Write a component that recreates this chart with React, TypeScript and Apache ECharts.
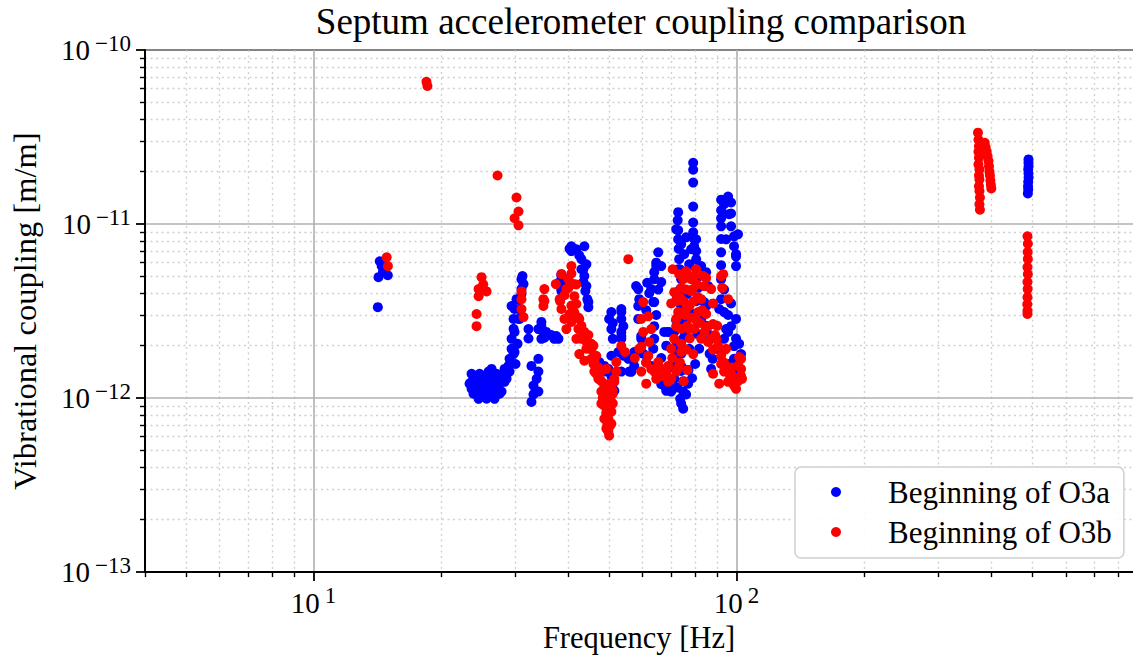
import React, { useEffect, useRef } from "react";
import * as echarts from "echarts";

const TITLE = "Septum accelerometer coupling comparison";
const X_NAME = "Frequency [Hz]";
const Y_NAME = "Vibrational coupling [m/m]";
const SERIES_NAMES = ["Beginning of O3a", "Beginning of O3b"];
const SERIES_COLORS = ["#0000ff", "#ff0000"];

const X_RANGE = [4, 864.8];
const Y_RANGE = [1e-13, 1e-10];
const X_MAJOR = [10, 100];
const X_MINOR = [4, 5, 6, 7, 8, 9, 20, 30, 40, 50, 60, 70, 80, 90, 200, 300, 400, 500, 600, 700, 800];
const Y_MAJOR = [1e-13, 1e-12, 1e-11, 1e-10];
const Y_MINOR = [
  2e-13, 3e-13, 4e-13, 5e-13, 6e-13, 7e-13, 8e-13, 9e-13,
  2e-12, 3e-12, 4e-12, 5e-12, 6e-12, 7e-12, 8e-12, 9e-12,
  2e-11, 3e-11, 4e-11, 5e-11, 6e-11, 7e-11, 8e-11, 9e-11,
];

// [frequency Hz, coupling m/m]
const O3A_POINTS: [number, number][] = [
  [14.35, 6.11e-12], [14.5, 5.73e-12], [14.25, 4.95e-12], [14.99, 5.08e-12], [14.6, 5.3e-12], [14.2, 3.33e-12],
  [23.65, 1.24e-12], [23.65, 1.13e-12], [24.04, 1.29e-12], [24.04, 1.09e-12], [24.3, 1.18e-12], [24.57, 0.99e-12],
  [24.57, 1.24e-12], [24.97, 1.18e-12], [24.97, 1.05e-12], [25.4, 1.09e-12], [25.4, 1.29e-12], [25.66, 1.24e-12],
  [25.94, 1.42e-12], [25.94, 1.13e-12], [26.37, 1.29e-12], [26.37, 1.05e-12], [26.8, 1.09e-12], [26.8, 0.99e-12],
  [26.8, 1.2e-12], [27.39, 1.18e-12], [27.39, 1.34e-12], [27.84, 1.29e-12], [27.84, 1.09e-12], [28.3, 1.47e-12],
  [28.3, 1.24e-12], [28.61, 1.29e-12], [28.9, 1.53e-12], [29.08, 1.68e-12], [29.08, 1.42e-12],
  [23.39, 1.21e-12], [23.9, 1.06e-12], [24.7, 1.38e-12], [25.24, 1.24e-12], [26.08, 1.13e-12], [27.09, 1.38e-12],
  [27.54, 1.06e-12], [25.66, 9.91e-13], [26.37, 1.47e-12], [28.61, 1.38e-12], [23.65, 1.38e-12],
  [29.4, 2.19e-12], [29.4, 1.92e-12], [29.72, 2.85e-12], [29.72, 2.5e-12], [29.88, 2.4e-12], [29.88, 3.25e-12],
  [29.88, 1.84e-12], [29.4, 3.38e-12], [30.53, 3.25e-12], [30.53, 2.85e-12], [30.7, 3.7e-12], [31.03, 4.23e-12],
  [31.03, 4.82e-12], [31.2, 5.02e-12], [32.23, 2.49e-12], [32.23, 2.2e-12], [32.76, 1.53e-12], [32.76, 9.5e-13],
  [30.2, 3.7e-12], [30.7, 2.85e-12], [30.37, 2.05e-12], [29.72, 1.79e-12], [30.04, 1.57e-12], [31.03, 3.96e-12],
  [31.37, 4.52e-12], [30.87, 3.25e-12],
  [33.12, 1.18e-12], [33.12, 1.05e-12], [33.7, 1.29e-12], [34.02, 1.68e-12], [34.02, 1.42e-12], [34.02, 1.09e-12],
  [34.02, 2.49e-12], [34.58, 2.59e-12], [34.58, 2.19e-12], [34.96, 2.4e-12], [35.15, 2.27e-12],
  [34.58, 2.74e-12], [35.5, 2.4e-12], [36.5, 2.3e-12], [37.1, 2.19e-12], [35.15, 2.22e-12],
  [37.94, 2.19e-12], [37.5, 2.27e-12], [38.56, 5.02e-12], [38.56, 4.23e-12], [38.56, 4.64e-12], [38.2, 4.64e-12],
  [38.56, 5.15e-12], [38.56, 4.12e-12],
  [40.71, 7.45e-12], [40.71, 6.99e-12], [40.3, 7.2e-12], [42.5, 6.6e-12], [42.99, 6.28e-12], [43.69, 7.45e-12],
  [43.46, 5.5e-12], [42.99, 5.5e-12], [43.69, 5.02e-12], [43.46, 4.64e-12], [44.17, 4.4e-12], [44.65, 3.56e-12],
  [44.65, 3.33e-12], [41.83, 7.16e-12], [44.17, 5.87e-12], [43.93, 4.12e-12], [44.41, 3.7e-12],
  [49.78, 1.47e-12], [48.7, 1.42e-12], [50.6, 1.34e-12], [50.0, 2.85e-12], [50.6, 3.12e-12], [50.6, 2.49e-12],
  [51.0, 2.19e-12], [51.0, 2.7e-12], [52.56, 1.84e-12], [53.42, 3.12e-12], [53.42, 2.85e-12], [54.01, 2.59e-12],
  [53.42, 2.27e-12], [53.42, 3.25e-12], [53.42, 2.4e-12], [54.01, 1.75e-12], [53.42, 1.42e-12], [55.49, 1.68e-12],
  [55.79, 1.42e-12], [56.4, 1.42e-12], [57.32, 1.53e-12], [57.32, 1.84e-12], [57.9, 4.4e-12], [58.58, 4.23e-12],
  [58.9, 3.7e-12], [58.58, 2.85e-12], [59.54, 2.19e-12], [48.7, 1.53e-12], [50.6, 1.2e-12], [51.43, 1.1e-12],
  [47.4, 1.61e-12], [50.6, 1.75e-12], [51.0, 1.13e-12], [49.78, 1.03e-12], [53.42, 2.19e-12], [52.85, 1.84e-12],
  [56.4, 1.68e-12], [56.4, 1.42e-12],
  [62.87, 1.53e-12], [63.55, 3.56e-12], [63.9, 5.29e-12], [65.3, 6.88e-12], [66.38, 5.73e-12], [66.38, 4.64e-12],
  [63.9, 2.59e-12], [67.47, 2.4e-12], [68.95, 2.4e-12], [64.6, 6.0e-12], [65.3, 4.2e-12], [64.6, 3.0e-12],
  [62.19, 4.0e-12], [61.5, 4.6e-12], [61.18, 3.2e-12], [60.19, 1.8e-12], [61.18, 1.6e-12], [63.55, 1.92e-12],
  [66.38, 1.7e-12], [68.21, 2.0e-12], [69.5, 1.5e-12],
  [58.58, 3.38e-12], [59.54, 2.27e-12], [63.9, 2.19e-12], [64.6, 5.73e-12], [63.9, 4.82e-12], [62.87, 4.23e-12],
  [63.9, 3.56e-12], [68.95, 2.4e-12], [67.47, 1.18e-12], [70.08, 1.13e-12],
  [66.38, 1.2e-12], [68.21, 1.1e-12], [72.4, 1.15e-12], [76.0, 1.05e-12], [78.5, 1.3e-12], [77.0, 1.45e-12],
  [72.79, 1.17e-11], [72.6, 1.05e-11], [72.79, 9.2e-12], [72.79, 8.17e-12], [73.0, 7.2e-12], [73.19, 6.28e-12],
  [73.5, 5.5e-12], [73.99, 4.82e-12], [73.5, 4.2e-12], [73.99, 3.38e-12], [72.4, 3.8e-12], [72.01, 2.8e-12],
  [72.01, 1.99e-12], [71.23, 2.4e-12], [71.23, 1.29e-12], [70.08, 1.09e-12], [70.6, 1.6e-12], [74.8, 1.09e-12],
  [74.8, 8.69e-13], [74.8, 1.25e-12], [74.4, 1.5e-12], [74.0, 1.8e-12], [74.8, 2.2e-12], [75.4, 2.7e-12], [75.4, 3.2e-12],
  [72.01, 9.32e-12], [73.99, 7.65e-12], [76.03, 8.39e-12], [75.2, 6.71e-12], [78.12, 7.16e-12], [80.27, 8.17e-12],
  [77.3, 5.87e-12], [72.79, 5.5e-12], [80.27, 4.82e-12], [76.4, 3.96e-12], [73.19, 2.85e-12], [78.98, 3.04e-12],
  [75.6, 2.34e-12], [80.7, 2.34e-12], [72.4, 1.79e-12], [77.3, 1.92e-12], [79.84, 1.57e-12], [73.99, 1.43e-12],
  [76.86, 1.21e-12], [73.6, 9.91e-13], [73.99, 9.3e-13], [81.15, 3.7e-12], [82.49, 2.85e-12], [81.6, 1.92e-12],
  [78.98, 2.25e-11], [78.98, 2.05e-11], [78.98, 1.73e-11], [78.98, 1.26e-11], [78.98, 1.02e-11], [78.98, 8.96e-12],
  [79.41, 7.45e-12], [80.27, 6.28e-12], [82.49, 5.73e-12], [84.76, 5.29e-12], [85.68, 4.4e-12], [83.85, 3.56e-12],
  [80.27, 5.5e-12], [79.41, 4.8e-12], [81.15, 4.3e-12], [80.27, 3.6e-12], [82.49, 3.0e-12], [84.76, 2.6e-12],
  [86.4, 2.3e-12], [87.09, 1.47e-12], [86.4, 1.8e-12], [85.0, 3.4e-12], [79.41, 8.2e-12], [80.27, 7.0e-12],
  [91.95, 1.38e-11], [95.5, 1.44e-11], [97.06, 1.33e-11], [93.44, 1.3e-11], [91.95, 1.2e-11], [91.95, 1.08e-11],
  [91.95, 9.7e-12], [91.95, 8.2e-12], [91.95, 6.88e-12], [91.95, 5.8e-12], [97.06, 9.7e-12], [97.06, 1.15e-11],
  [98.65, 8.5e-12], [98.65, 7.45e-12], [99.73, 6.5e-12], [99.73, 5.73e-12], [91.95, 4.82e-12], [91.95, 3.7e-12],
  [93.44, 3.12e-12], [93.44, 4.2e-12], [97.06, 2.59e-12], [98.65, 1.99e-12], [98.65, 1.68e-12], [100.8, 1.42e-12],
  [93.44, 2.19e-12], [95.5, 3.0e-12], [97.06, 3.5e-12], [95.5, 2.4e-12], [100.8, 1.6e-12], [99.73, 2.2e-12],
  [94.47, 8.17e-12], [100.8, 8.73e-12], [99.73, 6.71e-12], [96.0, 1.14e-11], [91.0, 3.25e-12], [94.47, 2.49e-12],
  [89.49, 1.92e-12], [99.73, 2.85e-12], [101.4, 2.05e-12], [87.8, 1.68e-12], [96.0, 1.57e-12], [102.5, 1.79e-12],
  [489.7, 2.35e-11], [489.7, 2.25e-11], [490, 2.15e-11], [489, 2.06e-11], [489.7, 1.95e-11], [490, 1.85e-11],
  [489, 1.75e-11], [488.5, 1.65e-11], [489, 1.58e-11], [488, 1.5e-11],
];

const O3B_POINTS: [number, number][] = [
  [14.9, 6.44e-12], [15.0, 5.73e-12],
  [18.5, 6.56e-11], [18.6, 6.22e-11],
  [24.97, 4.95e-12], [24.57, 4.23e-12], [25.66, 4.1e-12], [24.57, 3.85e-12], [24.3, 3.04e-12], [24.3, 2.59e-12], [25.2, 4.5e-12],
  [27.24, 1.9e-11],
  [30.2, 1.42e-11], [30.53, 1.18e-11], [29.88, 1.08e-11], [30.53, 9.83e-12],
  [31.03, 3.7e-12], [31.03, 3.25e-12], [31.37, 2.92e-12], [31.03, 4.1e-12],
  [35.15, 4.23e-12], [34.96, 3.7e-12], [34.96, 3.38e-12], [35.15, 3.61e-12],
  [38.56, 3.25e-12], [39.2, 2.85e-12], [38.3, 3.6e-12], [39.2, 3.9e-12], [40.05, 4.82e-12], [40.05, 4.3e-12],
  [40.71, 5.73e-12], [40.71, 5.2e-12], [40.71, 2.74e-12], [40.71, 3.4e-12], [41.38, 3.85e-12], [41.38, 3.1e-12],
  [41.8, 4.5e-12], [42.29, 2.49e-12], [42.29, 2.9e-12], [42.99, 2.19e-12], [42.99, 2.6e-12], [43.7, 2.4e-12],
  [44.2, 2.1e-12], [44.65, 1.99e-12], [44.65, 2.3e-12], [45.38, 1.68e-12], [45.38, 1.9e-12], [45.9, 2.0e-12],
  [46.13, 1.42e-12], [46.13, 1.6e-12], [46.6, 1.75e-12], [47.14, 1.29e-12], [47.14, 1.5e-12], [47.6, 1.4e-12],
  [47.92, 1.09e-12], [47.92, 1.25e-12], [48.3, 1.0e-12], [48.7, 9.04e-13], [48.7, 1.15e-12], [49.2, 8.2e-13],
  [49.78, 7.61e-13], [49.78, 6.42e-13], [49.5, 7.1e-13], [50.2, 6.9e-13], [50.6, 8.35e-13], [50.6, 9.5e-13],
  [50.3, 1.05e-12], [51.0, 1.1e-12], [51.43, 1.29e-12], [51.99, 1.61e-12], [51.99, 1.42e-12], [51.43, 1.24e-12],
  [37.4, 4.52e-12], [38.2, 3.7e-12], [39.62, 4.23e-12], [41.2, 4.52e-12], [41.83, 3.47e-12], [40.3, 3.04e-12],
  [42.5, 2.85e-12], [39.62, 2.49e-12], [38.56, 5.15e-12],
  [41.83, 2.19e-12], [43.46, 2.33e-12], [44.17, 1.92e-12], [42.5, 1.79e-12], [45.38, 2.05e-12], [45.9, 1.57e-12],
  [43.69, 1.64e-12], [46.63, 1.38e-12], [48.7, 1.13e-12], [50.0, 1.21e-12], [51.0, 1.06e-12], [49.24, 1.47e-12],
  [48.7, 7.61e-13], [49.24, 6.68e-13], [50.6, 7.13e-13], [51.0, 9.3e-13], [47.92, 9.3e-13], [50.0, 6.09e-13],
  [55.49, 6.28e-12], [60.19, 3.56e-12], [59.54, 2.85e-12], [61.85, 2.95e-12], [62.87, 2.49e-12], [62.19, 2.1e-12],
  [58.9, 1.92e-12], [59.54, 1.42e-12], [62.87, 1.47e-12], [63.9, 1.42e-12], [66.38, 1.47e-12], [67.47, 1.34e-12],
  [70.08, 1.29e-12], [72.01, 1.42e-12], [61.18, 1.6e-12], [65.3, 1.55e-12], [68.21, 1.4e-12], [60.19, 2.4e-12],
  [57.5, 1.7e-12], [53.42, 1.99e-12], [54.5, 1.84e-12],
  [59.54, 1.97e-12], [61.85, 1.75e-12], [65.3, 1.61e-12], [66.38, 1.34e-12], [68.95, 1.53e-12], [68.95, 1.24e-12],
  [61.18, 1.21e-12], [64.6, 1.29e-12],
  [71.23, 4.06e-12], [72.79, 3.12e-12], [72.01, 2.59e-12], [71.23, 2.19e-12], [73.99, 1.84e-12], [74.8, 4.82e-12],
  [76.86, 5.02e-12], [78.12, 4.82e-12], [79.41, 5.02e-12], [83.39, 5.02e-12], [83.85, 4.4e-12], [82.49, 3.7e-12],
  [81.15, 3.12e-12], [85.68, 2.59e-12], [85.68, 2.1e-12], [87.09, 2.19e-12], [90.47, 1.99e-12], [91.95, 1.75e-12],
  [93.44, 1.42e-12], [95.5, 1.24e-12], [98.65, 1.18e-12], [100.8, 1.53e-12], [91.95, 5.02e-12], [95.5, 3.7e-12],
  [72.01, 3.6e-12], [73.19, 3.8e-12], [74.0, 4.3e-12], [75.0, 3.6e-12], [75.5, 3.0e-12], [76.0, 4.2e-12],
  [76.5, 2.6e-12], [77.5, 3.4e-12], [78.0, 2.9e-12], [78.5, 4.2e-12], [79.0, 3.6e-12], [79.5, 2.5e-12],
  [80.5, 4.5e-12], [81.0, 3.8e-12], [82.0, 2.7e-12], [83.0, 3.2e-12], [84.0, 2.4e-12], [74.0, 2.5e-12],
  [73.5, 1.6e-12], [76.0, 1.9e-12], [77.5, 2.2e-12], [70.5, 1.7e-12], [72.8, 1.5e-12], [75.0, 1.25e-12],
  [76.5, 1.45e-12], [88.0, 1.9e-12], [89.0, 2.3e-12], [93.44, 1.6e-12], [96.5, 1.35e-12], [97.06, 1.5e-12],
  [99.73, 1.3e-12], [100.8, 1.25e-12], [102.5, 1.68e-12], [102.5, 1.34e-12], [94.0, 1.9e-12], [90.0, 2.6e-12],
  [92.5, 4.3e-12],
  [70.65, 5.5e-12], [73.19, 5.15e-12], [76.03, 5.35e-12], [80.27, 5.5e-12], [84.76, 4.9e-12], [87.09, 4.23e-12],
  [78.12, 4.12e-12], [73.99, 3.7e-12], [70.08, 3.5e-12], [76.03, 3.25e-12], [80.27, 2.8e-12], [84.76, 3.04e-12],
  [72.01, 2.85e-12], [77.3, 2.49e-12], [82.49, 2.19e-12], [73.99, 2.05e-12], [78.98, 1.79e-12], [70.08, 1.92e-12],
  [88.0, 2.66e-12], [88.0, 3.5e-12],
  [89.49, 2.19e-12], [91.95, 1.57e-12], [88.0, 1.38e-12], [94.47, 1.92e-12], [91.0, 1.21e-12], [97.06, 1.38e-12],
  [102.5, 1.47e-12], [99.73, 1.13e-12], [103.0, 1.29e-12], [101.4, 1.72e-12], [93.0, 5.15e-12],
  [372, 3.35e-11], [373, 3.05e-11], [374, 2.8e-11], [373, 2.6e-11], [374, 2.4e-11], [373, 2.2e-11], [375, 2.06e-11],
  [374, 1.9e-11], [375, 1.8e-11], [374, 1.65e-11], [375, 1.55e-11], [376, 1.42e-11], [375, 1.3e-11], [376, 1.21e-11],
  [386, 2.93e-11], [388, 2.75e-11], [390, 2.6e-11], [392, 2.45e-11], [394, 2.3e-11], [395, 2.15e-11], [396, 2.0e-11],
  [397, 1.9e-11], [398, 1.78e-11], [399, 1.68e-11], [400, 1.6e-11],
  [487, 8.5e-12], [488, 7.7e-12], [487.5, 6.9e-12], [488, 6.3e-12], [487, 5.65e-12], [488, 5.15e-12],
  [487, 4.64e-12], [487.5, 4.23e-12], [487, 3.8e-12], [486.5, 3.46e-12], [487, 3.17e-12], [487, 3.04e-12],
];

const FONT = "Liberation Serif";
const lg = (v: number) => Math.log10(v);

const tickRich = {
  b: { fontSize: 29, fontFamily: FONT, color: "#000" },
  s: { fontSize: 23, fontFamily: FONT, color: "#000", padding: [0, 0, 14, 5] },
};

export default function App() {
  const ref = useRef<HTMLDivElement>(null);
  useEffect(() => {
    if (!ref.current) return;
    const chart = echarts.init(ref.current, null, { renderer: "svg" });
    const xMin = lg(X_RANGE[0]);
    const xMax = lg(X_RANGE[1]);
    const yMin = lg(Y_RANGE[0]);
    const yMax = lg(Y_RANGE[1]);
    const majorLine = { show: true, lineStyle: { color: "#b0b0b0", width: 1.6, type: "solid" } };
    const minorLine = { show: true, lineStyle: { color: "#d0d0d0", width: 1.4, type: [2, 3.5] } };
    const axisLineStyle = { color: "#000", width: 2 };
    const option: any = {
      animation: false,
      backgroundColor: "#fff",
      title: {
        text: TITLE,
        left: 641,
        top: 3,
        textAlign: "center",
        padding: 0,
        textStyle: { fontFamily: FONT, fontSize: 37, fontWeight: "normal", color: "#000" },
      },
      grid: { left: 143, top: 50, width: 990, height: 524, containLabel: false },
      legend: {
        data: SERIES_NAMES,
        orient: "vertical",
        left: 795,
        top: 467,
        icon: "circle",
        itemWidth: 10,
        itemHeight: 10,
        itemGap: 6,
        padding: [8, 12, 9, 36],
        backgroundColor: "rgba(255,255,255,0.9)",
        borderColor: "#d0d0d0",
        borderWidth: 1.5,
        borderRadius: 6,
        formatter: (name: string) => `{g|}{t|${name}}`,
        textStyle: {
          fontFamily: FONT,
          fontSize: 31,
          color: "#000",
          lineHeight: 34,
          rich: { g: { width: 42 }, t: { fontFamily: FONT, fontSize: 31, color: "#000", lineHeight: 34 } },
        },
      },
      xAxis: [
        {
          type: "value",
          min: xMin,
          max: xMax,
          position: "bottom",
          name: X_NAME,
          nameLocation: "middle",
          nameGap: 49,
          nameTextStyle: { fontFamily: FONT, fontSize: 30.5, color: "#000" },
          axisLine: { show: true, onZero: false, lineStyle: axisLineStyle },
          axisTick: { show: true, length: 9, customValues: X_MAJOR.map(lg), lineStyle: { color: "#000", width: 1.8 } },
          axisLabel: {
            customValues: X_MAJOR.map(lg),
            margin: 12,
            formatter: (v: number) => `{b|10}{s|${Math.round(v)}}`,
            rich: tickRich,
          },
          splitLine: majorLine,
          z: 3,
        },
        {
          type: "value",
          min: xMin,
          max: xMax,
          position: "bottom",
          axisLine: { show: false, onZero: false },
          axisTick: { show: true, length: 5, customValues: X_MINOR.map(lg), lineStyle: { color: "#000", width: 1.4 } },
          axisLabel: { show: false },
          splitLine: minorLine,
          z: 2,
        },
        {
          type: "value",
          min: xMin,
          max: xMax,
          position: "top",
          axisLine: { show: true, onZero: false, lineStyle: axisLineStyle },
          axisTick: { show: false },
          axisLabel: { show: false },
          splitLine: { show: false },
        },
      ],
      yAxis: [
        {
          type: "value",
          min: yMin,
          max: yMax,
          position: "left",
          name: Y_NAME,
          nameLocation: "middle",
          nameRotate: 90,
          nameGap: 104,
          nameTextStyle: { fontFamily: FONT, fontSize: 32.5, color: "#000" },
          axisLine: { show: true, onZero: false, lineStyle: axisLineStyle },
          axisTick: { show: true, length: 9, customValues: Y_MAJOR.map(lg), lineStyle: { color: "#000", width: 1.8 } },
          axisLabel: {
            customValues: Y_MAJOR.map(lg),
            margin: 14,
            formatter: (v: number) => `{b|10}{s|\u2212${Math.abs(Math.round(v))}}`,
            rich: tickRich,
          },
          splitLine: majorLine,
          z: 3,
        },
        {
          type: "value",
          min: yMin,
          max: yMax,
          position: "left",
          axisLine: { show: false, onZero: false },
          axisTick: { show: true, length: 5, customValues: Y_MINOR.map(lg), lineStyle: { color: "#000", width: 1.4 } },
          axisLabel: { show: false },
          splitLine: minorLine,
          z: 2,
        },
      ],
      series: [
        {
          name: SERIES_NAMES[0],
          type: "scatter",
          xAxisIndex: 0,
          yAxisIndex: 0,
          symbol: "circle",
          symbolSize: 10,
          itemStyle: { color: SERIES_COLORS[0], opacity: 1 },
          data: O3A_POINTS.map(([f, c]) => [lg(f), lg(c)]),
          z: 4,
        },
        {
          name: SERIES_NAMES[1],
          type: "scatter",
          xAxisIndex: 0,
          yAxisIndex: 0,
          symbol: "circle",
          symbolSize: 10,
          itemStyle: { color: SERIES_COLORS[1], opacity: 1 },
          data: O3B_POINTS.map(([f, c]) => [lg(f), lg(c)]),
          z: 5,
        },
      ],
    };
    chart.setOption(option);
    return () => chart.dispose();
  }, []);
  return (
    <div
      ref={ref}
      style={{ position: "absolute", left: 0, top: 0, width: 1133, height: 658, background: "#fff" }}
    />
  );
}
